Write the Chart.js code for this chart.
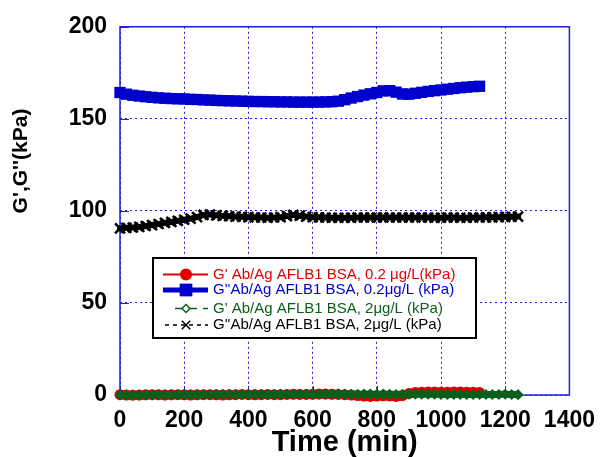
<!DOCTYPE html>
<html>
<head>
<meta charset="utf-8">
<script src="https://cdn.jsdelivr.net/npm/chart.js@4"></script>
<style>
  html, body { margin: 0; padding: 0; background: #fff; }
  #wrap { width: 607px; height: 457px; }
</style>
</head>
<body>
<div id="wrap"><canvas id="chart" width="607" height="457"></canvas></div>
<script>
// time axis (min)
const timeA = [0,20,40,60,80,100,120,140,160,180,200,220,240,260,280,300,320,340,360,380,
  400,420,440,460,480,500,520,540,560,580,600,620,640,660,680,700,720,740,760,780,
  800,820,840,860,880,900,920,940,960,980,1000,1020,1040,1060,1080,1100,1120];
const timeB = [0,20,40,60,80,100,120,140,160,180,200,220,240,260,280,300,320,340,360,380,
  400,420,440,460,480,500,520,540,560,580,600,620,640,660,680,700,720,740,760,780,
  800,820,840,860,880,900,920,940,960,980,1000,1020,1040,1060,1080,1100,1120,1140,1160,1180,
  1200,1220,1240];

// G' 0.2 ug/L (red)
const gPrime02 = [0.2,0.0,-0.1,0.0,0.1,0.2,0.1,0.0,0.1,0.2,0.1,0.0,0.1,0.2,0.2,0.1,0.0,0.1,0.2,0.3,
  0.2,0.1,0.2,0.3,0.2,0.2,0.3,0.4,0.3,0.3,0.4,0.5,0.5,0.4,0.3,0.2,0.0,-0.3,-0.6,-0.8,
  -0.6,-0.4,-0.5,-0.8,-0.3,0.8,1.4,1.5,1.6,1.6,1.5,1.5,1.6,1.6,1.5,1.5,1.4];
// G'' 0.2 ug/L (blue)
const gDouble02 = [164.3,163.4,162.8,162.4,162.0,161.7,161.4,161.2,161.0,160.9,160.8,160.6,160.5,160.3,160.2,160.0,159.9,159.8,159.7,159.6,
  159.5,159.4,159.4,159.3,159.3,159.2,159.2,159.1,159.1,159.1,159.1,159.1,159.2,159.3,159.6,160.4,161.3,162.1,162.9,163.6,
  164.3,165.2,165.3,164.5,163.5,163.4,163.9,164.4,164.9,165.3,165.7,166.1,166.5,166.9,167.2,167.5,167.7];
// G' 2 ug/L (green)
const gPrime2 = [0.0,0.0,0.1,0.1,0.1,0.1,0.2,0.2,0.1,0.2,0.2,0.2,0.2,0.3,0.3,0.3,0.4,0.4,0.3,0.3,
  0.4,0.4,0.4,0.3,0.4,0.5,0.4,0.4,0.5,0.5,0.4,0.4,0.5,0.5,0.6,0.5,0.4,0.4,0.5,0.5,
  0.4,0.5,0.4,0.3,0.4,0.4,0.5,0.4,0.4,0.4,0.3,0.3,0.3,0.3,0.3,0.3,0.3,0.3,0.3,0.3,
  0.4,0.3,0.2];
// G'' 2 ug/L (black)
const gDouble2 = [90.5,90.8,91.0,91.3,91.8,92.3,92.9,93.5,94.0,94.6,95.2,95.8,96.6,97.8,98.0,97.6,97.3,97.1,96.9,96.8,
  96.6,96.5,96.4,96.3,96.4,96.6,97.2,97.8,97.4,96.9,96.6,96.5,96.4,96.3,96.3,96.3,96.3,96.4,96.4,96.4,
  96.4,96.4,96.4,96.4,96.4,96.4,96.4,96.4,96.4,96.3,96.3,96.4,96.4,96.3,96.3,96.4,96.4,96.5,96.5,96.6,
  96.7,96.8,96.9];

const seriesNames = [
  "G' Ab/Ag AFLB1 BSA, 0.2 \u03bcg/L(kPa)",
  "G''Ab/Ag AFLB1 BSA, 0.2\u03bcg/L (kPa)",
  "G' Ab/Ag AFLB1 BSA, 2\u03bcg/L (kPa)",
  "G''Ab/Ag AFLB1 BSA, 2\u03bcg/L (kPa)"
];
const xTickValues = [0,200,400,600,800,1000,1200,1400];
const yTickValues = [0,50,100,150,200];

const FONT = '"Liberation Sans", Arial, sans-serif';
const RED = '#e00000', BLUE = '#0000cc', GREEN = '#0b5f1c', BLACK = '#000000';
const GRID = '#1c1ce6';

function pts(xs, ys) {
  return xs.map((x, i) => ({ x: x, y: ys[i] }));
}

function drawMarker(ctx, style, x, y, r, fill, stroke, lw) {
  ctx.save();
  ctx.fillStyle = fill;
  ctx.strokeStyle = stroke;
  ctx.lineWidth = lw;
  ctx.setLineDash([]);
  ctx.beginPath();
  if (style === 'circle') {
    ctx.arc(x, y, r, 0, Math.PI * 2);
    ctx.fill();
  } else if (style === 'rect') {
    const s = r * Math.SQRT1_2;
    ctx.rect(x - s, y - s, 2 * s, 2 * s);
    ctx.fill();
  } else if (style === 'rectRot') {
    ctx.moveTo(x, y - r); ctx.lineTo(x + r, y); ctx.lineTo(x, y + r); ctx.lineTo(x - r, y);
    ctx.closePath();
    ctx.fill(); ctx.stroke();
  } else if (style === 'crossRot') {
    const s = r * Math.SQRT1_2;
    ctx.moveTo(x - s, y - s); ctx.lineTo(x + s, y + s);
    ctx.moveTo(x - s, y + s); ctx.lineTo(x + s, y - s);
    ctx.stroke();
  }
  ctx.restore();
}

const framePlugin = {
  id: 'frame',
  beforeDatasetsDraw(chart) {
    const { ctx, chartArea: a, scales } = chart;
    ctx.save();
    ctx.strokeStyle = GRID;
    ctx.lineWidth = 1.5;
    ctx.strokeRect(a.left, a.top, a.right - a.left, a.bottom - a.top);
    ctx.lineWidth = 1;
    ctx.beginPath();
    yTickValues.forEach(v => {
      const y = Math.round(scales.y.getPixelForValue(v)) + 0.5;
      ctx.moveTo(a.left, y); ctx.lineTo(a.left + 9, y);
    });
    xTickValues.forEach(v => {
      const x = Math.round(scales.x.getPixelForValue(v)) + 0.5;
      ctx.moveTo(x, a.bottom); ctx.lineTo(x, a.bottom - 9);
    });
    ctx.stroke();
    ctx.restore();
  },
  afterDraw(chart) {
    const ctx = chart.ctx;
    // y axis title
    ctx.save();
    ctx.translate(21, 161);
    ctx.rotate(-Math.PI / 2);
    ctx.font = 'bold 21px ' + FONT;
    ctx.fillStyle = '#000';
    ctx.textAlign = 'center';
    ctx.textBaseline = 'middle';
    ctx.fillText("G',G''(kPa)", 0, 0);
    ctx.restore();

    // legend box
    ctx.save();
    ctx.fillStyle = '#fff';
    ctx.fillRect(153, 258, 323, 80);
    ctx.strokeStyle = '#000';
    ctx.lineWidth = 2;
    ctx.strokeRect(153, 258, 323, 80);
    const rowY = [274.5, 290, 308.5, 325];
    chart.data.datasets.forEach((ds, row) => {
      const y = rowY[row];
      ctx.save();
      ctx.strokeStyle = ds.borderColor;
      ctx.lineWidth = ds.legendLineWidth;
      ctx.setLineDash(ds.legendDash);
      ctx.beginPath();
      ctx.moveTo(ds.legendStart, y); ctx.lineTo(208, y);
      ctx.stroke();
      ctx.restore();
      drawMarker(ctx, ds.pointStyle, 186, y, ds.legendRadius,
        ds.legendFill, ds.borderColor, 1.5);
      ctx.font = '15px ' + FONT;
      ctx.fillStyle = ds.borderColor;
      ctx.textAlign = 'left';
      ctx.textBaseline = 'middle';
      ctx.fillText(ds.label, 213, y);
    });
    ctx.restore();
  }
};

const ctx = document.getElementById('chart').getContext('2d');
new Chart(ctx, {
  type: 'line',
  data: {
    datasets: [
      {
        label: seriesNames[0], data: pts(timeA, gPrime02), order: 1,
        borderColor: RED, backgroundColor: RED, borderWidth: 9,
        pointStyle: 'circle', pointRadius: 5.5, pointBackgroundColor: RED, pointBorderWidth: 0,
        legendLineWidth: 2, legendDash: [], legendRadius: 6, legendFill: RED, legendStart: 163
      },
      {
        label: seriesNames[1], data: pts(timeA, gDouble02), order: 3,
        borderColor: BLUE, backgroundColor: BLUE, borderWidth: 10,
        pointStyle: 'rect', pointRadius: 8, pointBackgroundColor: BLUE, pointBorderWidth: 0,
        legendLineWidth: 5, legendDash: [], legendRadius: 9, legendFill: BLUE, legendStart: 163
      },
      {
        label: seriesNames[2], data: pts(timeB, gPrime2), order: 0,
        borderColor: GREEN, backgroundColor: GREEN, borderWidth: 7,
        pointStyle: 'rectRot', pointRadius: 4.5, pointBackgroundColor: GREEN,
        pointBorderColor: GREEN, pointBorderWidth: 1.5,
        legendLineWidth: 1.3, legendDash: [8, 6], legendRadius: 4, legendFill: '#fff', legendStart: 175
      },
      {
        label: seriesNames[3], data: pts(timeB, gDouble2), order: 2,
        borderColor: BLACK, backgroundColor: BLACK, borderWidth: 6,
        pointStyle: 'crossRot', pointRadius: 7, pointBorderColor: BLACK, pointBorderWidth: 2.5,
        legendLineWidth: 1.3, legendDash: [4, 4], legendRadius: 6, legendFill: '#fff', legendStart: 165
      }
    ]
  },
  options: {
    responsive: false,
    animation: false,
    devicePixelRatio: 1,
    layout: { padding: { top: 22, right: 34, left: 0, bottom: 0 } },
    elements: { line: { tension: 0.25, borderCapStyle: 'round', borderJoinStyle: 'round' } },
    datasets: { line: { clip: false } },
    plugins: {
      legend: { display: false },
      tooltip: { enabled: false }
    },
    scales: {
      x: {
        type: 'linear', min: 0, max: 1400,
        afterBuildTicks: s => { s.ticks = xTickValues.map(v => ({ value: v })); },
        afterFit: s => { s.height = 62; },
        ticks: {
          callback: v => String(v), autoSkip: false, maxRotation: 0, padding: 12,
          color: '#000', font: { family: FONT, size: 23, weight: 'bold' }
        },
        grid: { color: GRID, lineWidth: 1, drawTicks: false },
        border: { display: false, dash: [2, 3] },
        title: {
          display: true, text: 'Time (min)', color: '#000',
          font: { family: FONT, size: 29, weight: 'bold', lineHeight: 1 },
          padding: { top: 0, bottom: 0 }
        }
      },
      y: {
        type: 'linear', min: 0, max: 200,
        afterBuildTicks: s => { s.ticks = yTickValues.map(v => ({ value: v })); },
        afterFit: s => { s.width = 120; },
        ticks: {
          callback: v => String(v), padding: 13,
          color: '#000', font: { family: FONT, size: 23, weight: 'bold' }
        },
        grid: { color: GRID, lineWidth: 1, drawTicks: false },
        border: { display: false, dash: [2, 3] }
      }
    }
  },
  plugins: [framePlugin]
});
</script>
</body>
</html>
